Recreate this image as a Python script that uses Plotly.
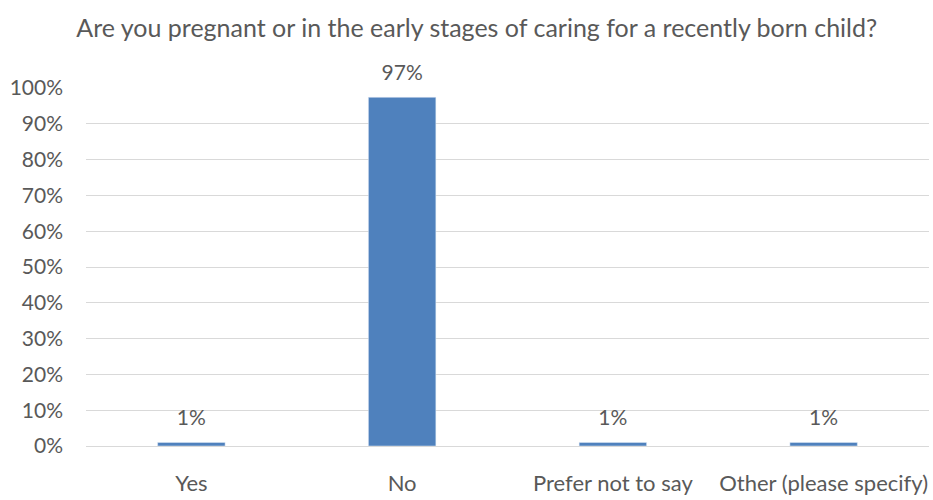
import plotly.graph_objects as go

categories = ["Yes", "No", "Prefer not to say", "Other (please specify)"]
values = [1, 97.4, 1, 1]
labels = ["1%", "97%", "1%", "1%"]
tick_vals = [0, 10, 20, 30, 40, 50, 60, 70, 80, 90, 100]
tick_text = [f"{v}%" for v in tick_vals]

font_family = "Lato, Open Sans, sans-serif"
text_color = "#595959"

fig = go.Figure()
fig.add_trace(go.Bar(
    x=categories, y=values,
    marker_color="#4F81BD", width=0.32, hoverinfo="skip",
))
fig.add_trace(go.Scatter(
    x=categories, y=values, text=labels, mode="markers+text",
    textposition="top center", cliponaxis=False, hoverinfo="skip",
    marker=dict(size=18, opacity=0),
    textfont=dict(size=21, color=text_color, family=font_family),
))

fig.update_layout(
    width=933, height=500,
    margin=dict(l=86, r=4, t=88, b=52),
    paper_bgcolor="white", plot_bgcolor="white",
    showlegend=False,
    title=dict(text="Are you pregnant or in the early stages of caring for a recently born child?",
               x=0.511, xanchor="center", y=1 - 28/500, yanchor="middle",
               font=dict(size=25, color=text_color, family=font_family)),
    font=dict(family=font_family, color=text_color, size=21),
)
fig.update_yaxes(range=[0, 100], tickvals=tick_vals, ticktext=tick_text,
                 showgrid=True, gridcolor="#D9D9D9", gridwidth=1,
                 zeroline=True, zerolinecolor="#D9D9D9", zerolinewidth=1,
                 showline=False, ticks="", ticklabelstandoff=22,
                 tickfont=dict(size=21, color=text_color))
fig.update_xaxes(showgrid=False, showline=False, ticks="", ticklabelstandoff=22,
                 tickfont=dict(size=22, color=text_color))

fig.write_html("out.html", config={"displayModeBar": False},
               post_script="document.body.style.margin='0';")
